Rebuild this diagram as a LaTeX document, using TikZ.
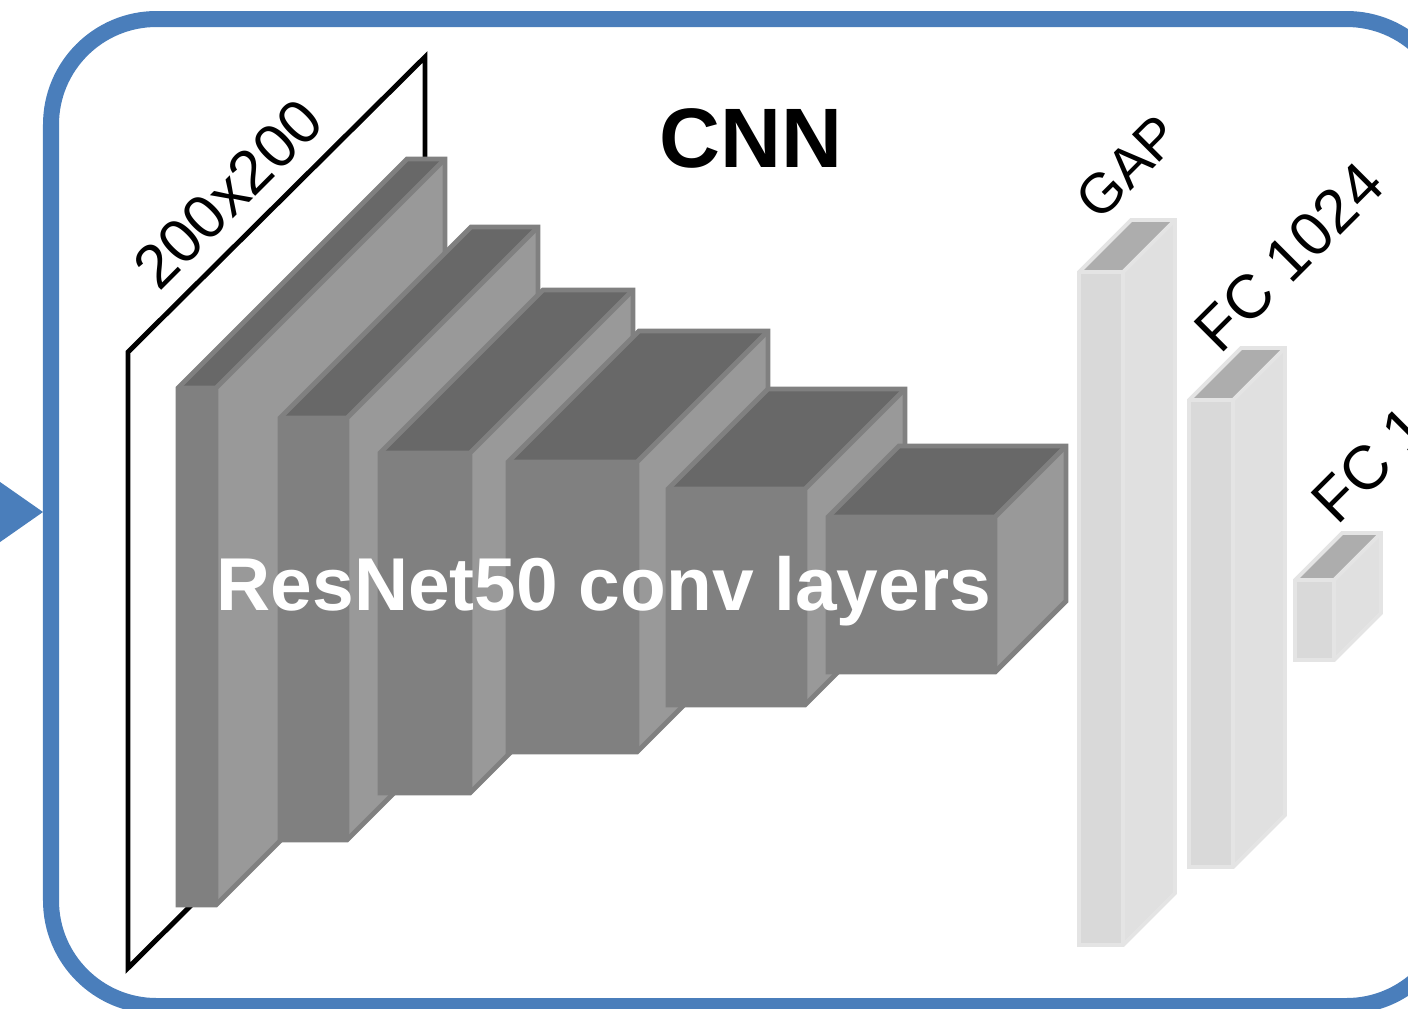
\documentclass[tikz,border=0pt]{standalone}
\usepackage{fontspec}
\setmainfont{Liberation Sans}

\definecolor{frameblue}{RGB}{74,126,187}
\definecolor{convfront}{RGB}{128,128,128}
\definecolor{convside}{RGB}{153,153,153}
\definecolor{convtop}{RGB}{104,104,104}
\definecolor{convedge}{RGB}{128,128,128}
\definecolor{fcfront}{RGB}{217,217,217}
\definecolor{fcside}{RGB}{224,224,224}
\definecolor{fctop}{RGB}{173,173,173}
\definecolor{fcedge}{RGB}{228,228,228}

% cuboid: [colour set]{left}{right}{top}{bottom}{depth}
\newcommand{\cuboid}[6][conv]{%
  \fill[#1front] (#2,#4) rectangle (#3,#5);
  \fill[#1side] (#3,#4) -- ++(#6,-#6) -- ({#3+#6},{#5-#6}) -- (#3,#5) -- cycle;
  \fill[#1top] (#2,#4) -- ++(#6,-#6) -- ({#3+#6},{#4-#6}) -- (#3,#4) -- cycle;
  % outline and inner edges
  \draw[#1edge] (#2,#5) -- (#2,#4) -- ++(#6,-#6) -- ({#3+#6},{#4-#6})
    -- ({#3+#6},{#5-#6}) -- (#3,#5) -- cycle;
  \draw[#1edge] (#2,#4) -- (#3,#4) -- ++(#6,-#6) (#3,#4) -- (#3,#5);
}

\begin{document}
\begin{tikzpicture}[x=0.01cm, y=-0.01cm, line join=miter]

  \clip (0,0) rectangle (1408,1008);

  % frame and incoming arrow
  \draw[frameblue, line width=4.55pt, rounded corners=30pt] (51,19) rectangle (1452,1006);
  \fill[frameblue] (-60,440) -- (43,512) -- (-60,584) -- cycle;

  % input image plane
  \draw[line width=1.4pt] (128,352) -- (425,57) -- (425,673) -- (128,968) -- cycle;
  \node[rotate=45, anchor=base west, inner sep=0pt, font=\fontsize{17.5}{18}\selectfont]
    (insize) at (159,293) {200x200};

  % conv blocks
  \begin{scope}[line width=1.4pt]
    \cuboid{178}{216}{388}{905}{229}
    \cuboid{280}{347}{418}{840}{191}
    \cuboid{380}{470}{453}{793}{163}
    \cuboid{508}{637}{462}{752}{131}
    \cuboid{668}{805}{489}{705}{100}
    \cuboid{828}{995}{517}{672}{71}
  \end{scope}

  % dense part
  \begin{scope}[line width=1.1pt]
    \cuboid[fc]{1079}{1123}{272}{945}{52}
    \cuboid[fc]{1189}{1233}{400}{867}{52}
    \cuboid[fc]{1295}{1334}{580}{660}{47}
  \end{scope}

  % labels
  \node[anchor=base, font=\bfseries\fontsize{24}{24}\selectfont] (title) at (751,167) {CNN};
  \node[anchor=base, text=white, font=\bfseries\fontsize{21.3}{22}\selectfont] (convtext) at (604,610) {ResNet50 conv layers};
  \node[rotate=45, anchor=base west, inner sep=0pt, font=\fontsize{16}{16}\selectfont]
    (gaplabel) at (1099,223) {GAP};
  \node[rotate=45, anchor=base west, inner sep=0pt, font=\fontsize{17.5}{18}\selectfont]
    (fclabel) at (1220,356) {FC 1024};
  \node[rotate=45, anchor=base west, inner sep=0pt, font=\fontsize{17.5}{18}\selectfont]
    (outlabel) at (1337,527) {FC 1};

\end{tikzpicture}
\end{document}
